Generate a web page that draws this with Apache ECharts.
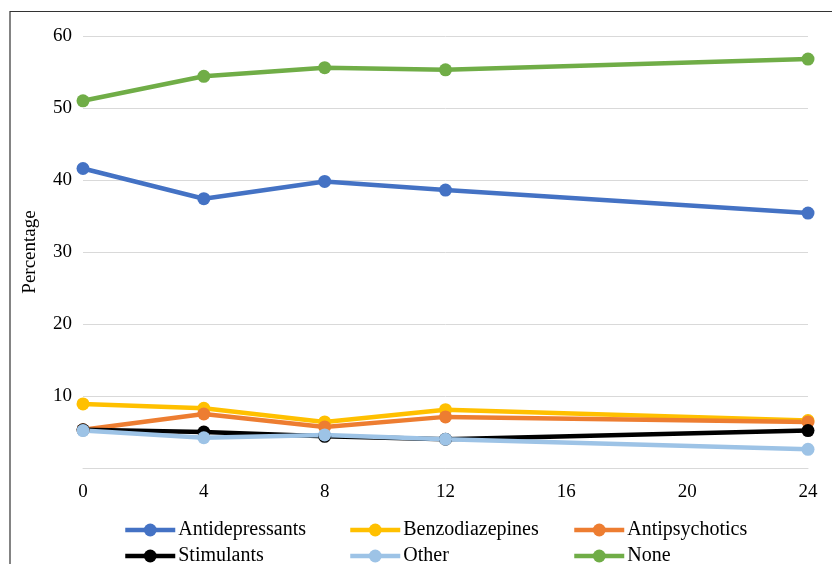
<!DOCTYPE html>
<html><head><meta charset="utf-8">
<script src="https://cdn.jsdelivr.net/npm/echarts@6/dist/echarts.min.js"></script>
<style>html,body{margin:0;padding:0;background:#fff}#c{width:832px;height:564px}</style>
</head><body><div id="c"></div>
<script>
const weeks = [0, 4, 8, 12, 24];
const antidepressants = [41.6, 37.4, 39.8, 38.6, 35.4];
const benzodiazepines = [8.9, 8.3, 6.4, 8.1, 6.6];
const antipsychotics = [5.3, 7.5, 5.7, 7.1, 6.4];
const stimulants = [5.3, 5.0, 4.4, 4.0, 5.2];
const other = [5.2, 4.2, 4.6, 4.0, 2.6];
const none = [51.0, 54.4, 55.6, 55.3, 56.8];
const yTicks = [0, 10, 20, 30, 40, 50, 60];

const seriesDefs = [
  ['Antidepressants', antidepressants, '#4472C4'],
  ['Benzodiazepines', benzodiazepines, '#FFC000'],
  ['Antipsychotics', antipsychotics, '#ED7D31'],
  ['Stimulants', stimulants, '#000000'],
  ['Other', other, '#9DC3E6'],
  ['None', none, '#70AD47']
];
const font = '"Liberation Serif","Times New Roman",serif';
const chart = echarts.init(document.getElementById('c'), null, {renderer: 'canvas'});
const legendPos = [[123, 520], [348, 520], [572, 520], [123, 546], [348, 546], [572, 546]];
const legends = seriesDefs.map((s, i) => ({
  left: legendPos[i][0], top: legendPos[i][1], data: [s[0]], padding: 0,
  itemWidth: 50, itemHeight: 16, itemGap: 0,
  lineStyle: {width: 4.5},
  textStyle: {fontFamily: font, fontSize: 20, color: '#000', padding: [0, 0, 0, -2]},
  selectedMode: false
}));
chart.setOption({
  animation: false,
  color: seriesDefs.map(s => s[2]),
  graphic: [{type: 'rect', shape: {x: 10, y: 11.5, width: 900, height: 700}, style: {fill: 'none', stroke: '#333', lineWidth: 1.2}, silent: true}],
  grid: {left: 83, right: 24, top: 36, bottom: 96},
  legend: legends,
  xAxis: {
    type: 'value', min: 0, max: 24, interval: 4,
    axisLine: {show: true, lineStyle: {color: '#d9d9d9', width: 1}},
    axisTick: {show: false}, splitLine: {show: false},
    axisLabel: {fontFamily: font, fontSize: 19, color: '#000', margin: 15}
  },
  yAxis: {
    type: 'value', min: yTicks[0], max: yTicks[yTicks.length - 1], interval: 10,
    name: 'Percentage', nameLocation: 'middle', nameGap: 43,
    nameTextStyle: {fontFamily: font, fontSize: 19, color: '#000'},
    axisLine: {show: false}, axisTick: {show: false},
    splitLine: {lineStyle: {color: '#d9d9d9', width: 1}},
    axisLabel: {fontFamily: font, fontSize: 19, color: '#000', margin: 11,
      formatter: v => v === 0 ? '' : String(v)}
  },
  series: seriesDefs.map(([name, vals, color]) => ({
    name, type: 'line',
    data: weeks.map((w, i) => [w, vals[i]]),
    symbol: 'circle', symbolSize: 13,
    lineStyle: {width: 4.5, color},
    itemStyle: {color}
  }))
});
</script></body></html>
